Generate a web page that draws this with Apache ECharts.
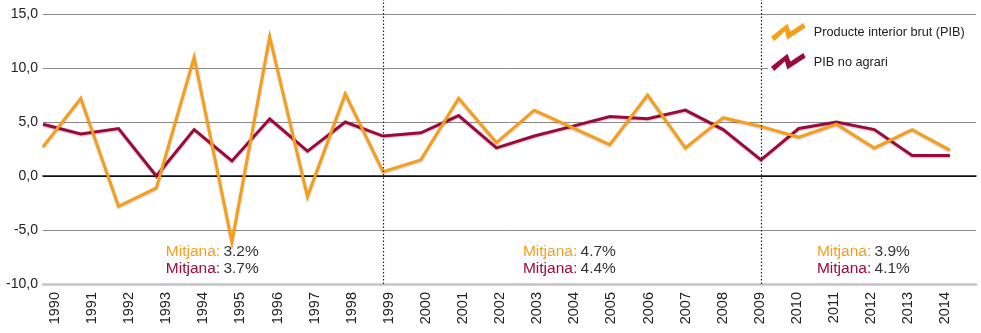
<!DOCTYPE html>
<html>
<head>
<meta charset="utf-8">
<script src="https://cdn.jsdelivr.net/npm/echarts@6/dist/echarts.min.js"></script>
<style>
    html, body { margin: 0; padding: 0; background: #fff; }
    #chart { width: 981px; height: 333px; }
</style>
</head>
<body>
<div id="chart"></div>
<script>
    // anys
    var years = [1990, 1991, 1992, 1993, 1994, 1995, 1996, 1997, 1998, 1999, 2000, 2001, 2002,
        2003, 2004, 2005, 2006, 2007, 2008, 2009, 2010, 2011, 2012, 2013, 2014];

    // Producte interior brut (PIB)
    var pib = [2.7, 7.2, -2.8, -1.1, 11.0, -6.1, 12.9, -1.9, 7.6, 0.4, 1.5, 7.2, 3.1,
        6.1, 4.5, 2.9, 7.5, 2.6, 5.4, 4.6, 3.6, 4.8, 2.6, 4.3, 2.4];

    // PIB no agrari
    var pibNoAgrari = [4.8, 3.9, 4.4, 0.0, 4.3, 1.4, 5.3, 2.3, 5.0, 3.7, 4.0, 5.6, 2.6,
        3.7, 4.6, 5.5, 5.3, 6.1, 4.3, 1.5, 4.4, 5.0, 4.3, 1.9, 1.9];

    // separadors de periodes
    var periodBreaks = [1999, 2009];

    // mitjanes per periode
    var avgLeftYear = [1993.25, 2002.7, 2010.48];
    var avgPib = ['3.2%', '4.7%', '3.9%'];
    var avgNoAgrari = ['3.7%', '4.4%', '4.1%'];

    var orange = '#F59E1A';
    var crimson = '#9C0A3C';
    var fontFam = '"Liberation Sans", Arial, Helvetica, sans-serif';

    // icona en ziga-zaga de la llegenda
    var zigzag = 'path://M0.3,13.8 L16.8,0.8 L19.8,8.6 L32.6,0 L35,4.4 L16.6,16.4 L14.2,8.2 L3.6,18 Z';

    var chart = echarts.init(document.getElementById('chart'));

    var option = {
        animation: false,
        grid: { left: 43, right: 5, top: 0, bottom: 49 },
        legend: {
            orient: 'vertical',
            left: 768,
            top: 20,
            padding: [3, 14, 3, 3],
            backgroundColor: '#fff',
            itemWidth: 35,
            itemHeight: 18,
            itemGap: 12,
            icon: zigzag,
            itemStyle: { borderWidth: 0 },
            textStyle: { fontFamily: fontFam, fontSize: 12.7, color: '#222', padding: [0, 0, 0, 3] },
            data: ['Producte interior brut (PIB)', 'PIB no agrari']
        },
        xAxis: [{
            type: 'value',
            min: 1990,
            max: 2014.69,
            axisLine: { onZero: true, lineStyle: { color: '#111', width: 1.6 } },
            axisTick: { show: false },
            axisLabel: { show: false },
            splitLine: { show: false }
        }, {
            // eix nomes per a les etiquetes dels anys
            type: 'value',
            position: 'bottom',
            min: 1989.677,
            max: 2014.825,
            splitNumber: 25,
            minInterval: 1,
            maxInterval: 1,
            axisLine: { onZero: false, lineStyle: { color: '#c4c4c4', width: 2.5 } },
            axisTick: { show: false },
            splitLine: { show: false },
            axisLabel: {
                rotate: 90,
                margin: 8,
                showMinLabel: false,
                showMaxLabel: false,
                fontFamily: fontFam,
                fontSize: 14.5,
                color: '#222',
                formatter: function(v) {
                    return Math.abs(v - Math.round(v)) < 1e-6 ? String(Math.round(v)) : '';
                }
            }
        }],
        yAxis: {
            type: 'value',
            min: -10,
            max: 16.3,
            interval: 5,
            axisLine: { show: false },
            axisTick: { show: false },
            axisLabel: {
                margin: 5,
                showMaxLabel: false,
                fontFamily: fontFam,
                fontSize: 14,
                color: '#222',
                formatter: function(v) {
                    if (v % 5 !== 0) return '';
                    return v.toFixed(1).replace('.', ',');
                }
            },
            splitLine: {
                lineStyle: {
                    color: ['rgba(0,0,0,0)', '#8a8a8a', '#111', '#8a8a8a', '#8a8a8a', '#8a8a8a', 'rgba(0,0,0,0)'],
                    width: 1
                }
            }
        },
        series: [{
            name: 'PIB no agrari',
            type: 'line',
            z: 2,
            symbol: 'none',
            color: crimson,
            data: years.map(function(y, i) { return [y, pibNoAgrari[i]]; }),
            lineStyle: {
                width: 3, join: 'miter', color: crimson,
                shadowBlur: 2, shadowColor: 'rgba(0,0,0,0.25)', shadowOffsetY: 1
            },
            markLine: {
                silent: true,
                symbol: 'none',
                label: { show: false },
                lineStyle: { type: [1.5, 2], color: '#222', width: 1.2 },
                data: periodBreaks.map(function(y) { return { xAxis: y }; })
            }
        }, {
            name: 'Producte interior brut (PIB)',
            type: 'line',
            z: 3,
            symbol: 'none',
            color: orange,
            data: years.map(function(y, i) { return [y, pib[i]]; }),
            lineStyle: {
                width: 3, join: 'miter', color: orange,
                shadowBlur: 2, shadowColor: 'rgba(0,0,0,0.25)', shadowOffsetY: 1
            }
        }]
    };

    chart.setOption(option);

    // textos de mitjana
    var graphics = [];
    for (var i = 0; i < avgLeftYear.length; i++) {
        var p1 = chart.convertToPixel({ xAxisIndex: 0, yAxisIndex: 0 }, [avgLeftYear[i], -7.04]);
        var p2 = chart.convertToPixel({ xAxisIndex: 0, yAxisIndex: 0 }, [avgLeftYear[i], -8.6]);
        var rows = [[p1, orange, avgPib[i]], [p2, crimson, avgNoAgrari[i]]];
        for (var j = 0; j < rows.length; j++) {
            graphics.push({
                type: 'text',
                x: rows[j][0][0],
                y: rows[j][0][1],
                z: 10,
                style: {
                    text: '{a|Mitjana:} {b|' + rows[j][2] + '}',
                    verticalAlign: 'middle',
                    rich: {
                        a: { fill: rows[j][1], fontSize: 15.5, fontFamily: fontFam },
                        b: { fill: '#333', fontSize: 15.5, fontFamily: fontFam }
                    }
                }
            });
        }
    }
    chart.setOption({ graphic: graphics });
</script>
</body>
</html>
